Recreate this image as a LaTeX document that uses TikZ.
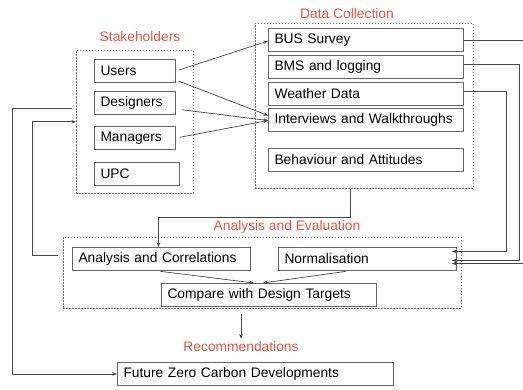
\documentclass[tikz,border=0pt]{standalone}
\usepackage{fontspec}
\setmainfont{Liberation Sans}
\usetikzlibrary{arrows.meta}
\usepackage{xcolor}
\definecolor{titlered}{RGB}{234,84,62}
\definecolor{linegray}{RGB}{70,70,70}

\begin{document}
\begin{tikzpicture}[x=1pt,y=-1pt,
  every node/.style={font=\fontsize{13.8}{16}\selectfont},
  box/.style={draw=black!60, line width=1pt, anchor=north west, text width=#1,
    align=left, inner xsep=6pt, inner ysep=0pt, minimum height=23pt},
  group/.style={draw=black!55, line width=0.6pt, dash pattern=on 1.6pt off 1.4pt,
    anchor=north west, inner sep=0pt},
  heading/.style={text=titlered, inner sep=1pt},
  conn/.style={draw=linegray, line width=0.7pt, -{Stealth[length=4.5pt,width=3.5pt]}}]

\useasboundingbox (0,0) rectangle (523,389);

\node[group, minimum width=117pt, minimum height=143pt] (stake) at (76,50) {};
\node[group, minimum width=218pt, minimum height=165pt] (dc) at (255,23) {};
\node[group, minimum width=398pt, minimum height=71pt] (ae) at (63,237) {};

\node[heading] (stakeT) at (140,37) {Stakeholders};
\node[heading] (dcT) at (347,14) {Data Collection};
\node[heading] (aeT) at (287,227) {Analysis and Evaluation};
\node[heading] (rec) at (241,347) {Recommendations};

\node[box=69pt] (users) at (94,59) {Users};
\node[box=69pt] (designers) at (94,91) {Designers};
\node[box=69pt] (managers) at (94,126) {Managers};
\node[box=73pt] (upc) at (94,162) {UPC};

\node[box=183pt] (bus) at (268,28) {BUS Survey};
\node[box=183pt] (bms) at (268,55) {BMS and logging};
\node[box=183pt] (weather) at (268,82) {Weather Data};
\node[box=183pt] (interviews) at (268,108) {Interviews and Walkthroughs};
\node[box=183pt] (behaviour) at (268,148) {Behaviour and Attitudes};

\node[box=166pt] (analysis) at (72,247) {Analysis and Correlations};
\node[box=166pt] (normal) at (278,247) {Normalisation};
\node[box=203pt] (compare) at (161,283) {Compare with Design Targets};

\node[box=264pt] (future) at (117,362) {Future Zero Carbon Developments};

% stakeholders to data collection
\draw[conn, shorten <=3pt] (users.east) -- ([yshift=-1pt]bus.west);
\draw[conn, shorten <=3pt] ([yshift=-9pt]users.east) -- ([yshift=4.5pt]interviews.west);
\draw[conn, shorten <=6pt] ([yshift=-6pt]designers.east) -- ([yshift=-0.5pt]interviews.west);
\draw[conn, shorten <=4pt] (managers.east) -- ([yshift=-0.5pt]interviews.west);

% data into analysis
\draw[conn] ([xshift=-14pt]dc.south) -- ++(0,29) -| ([xshift=-3pt]analysis.north);
\draw[conn] (bus.east) -- ++(67,0) |- ([xshift=-5pt,yshift=-4.5pt]normal.east);
\draw[conn] ([yshift=3pt]bms.east) -- ++(55,0) |- ([xshift=-5pt,yshift=-1.5pt]normal.east);
\draw[conn] ([yshift=3pt]weather.east) -- ++(42,0) |- ([xshift=-5pt,yshift=7.5pt]normal.east);

\draw[conn, shorten <=3pt] ([xshift=-4pt]analysis.south) -- ([xshift=-15pt]compare.north);
\draw[conn, shorten <=3pt] ([xshift=-19pt]normal.south) -- ([xshift=-6pt]compare.north);
\draw[conn, shorten <=7pt, shorten >=2pt] (rec.north |- compare.south) -- (rec.north);

% feedback loops
\draw[conn, shorten <=14pt] ([yshift=3.5pt]analysis.west) -- ++(-40,0) |- (stake.west);
\draw[conn, shorten <=4pt] ([yshift=13.5pt]stake.west) -- ++(-64,0) |- (future.west);
\end{tikzpicture}
\end{document}
